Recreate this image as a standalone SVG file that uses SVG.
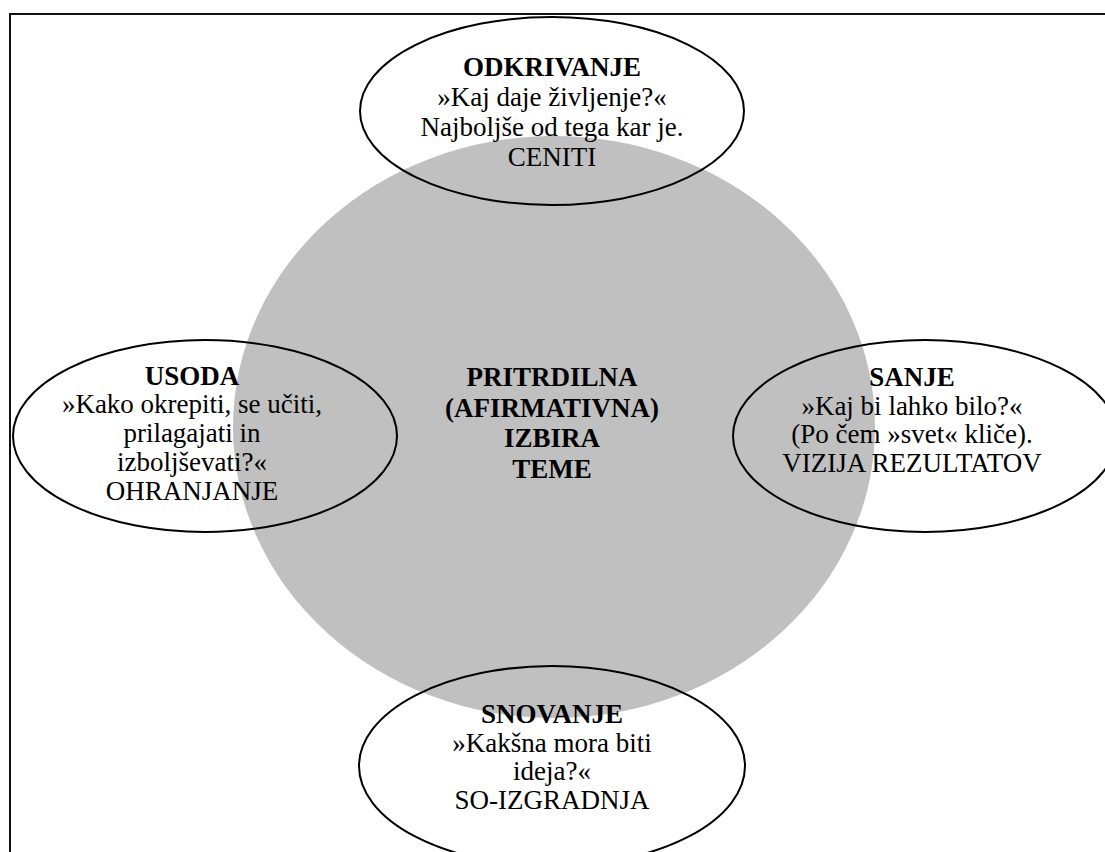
<svg xmlns="http://www.w3.org/2000/svg" width="1105" height="852" viewBox="0 0 1105 852">
  <style>
    .frame { fill: none; stroke: #111; stroke-width: 2; }
    .core { fill: #c0c0c0; stroke: none; }
    .phase { fill: none; stroke: #000; stroke-width: 2; }
    .lbl { font-family: 'Liberation Serif', 'Times New Roman', 'DejaVu Serif', serif; font-size: 27px; fill: #000; text-anchor: middle; }
    .title { font-weight: bold; }
  </style>
  <rect width="1105" height="852" fill="#fff"/>
  <rect class="frame" x="10" y="14" width="1200" height="900"/>

  <!-- central topic -->
  <g id="center">
    <ellipse class="core" cx="554" cy="427" rx="321" ry="291"/>
    <g class="lbl" font-family="Liberation Serif, Times New Roman, serif">
      <text class="title" x="552" y="386">PRITRDILNA</text>
      <text class="title" x="552" y="416.5">(AFIRMATIVNA)</text>
      <text class="title" x="552" y="447">IZBIRA</text>
      <text class="title" x="552" y="478">TEME</text>
    </g>
  </g>

  <g id="connectors"></g>

  <g id="odkrivanje">
    <ellipse class="phase" cx="552" cy="111" rx="192" ry="94"/>
    <g class="lbl" font-family="Liberation Serif, Times New Roman, serif">
      <text class="title" x="552" y="76">ODKRIVANJE</text>
      <text x="552" y="106">»Kaj daje življenje?«</text>
      <text x="552" y="136">Najboljše od tega kar je.</text>
      <text x="552" y="166">CENITI</text>
    </g>
  </g>

  <g id="usoda">
    <ellipse class="phase" cx="205" cy="436" rx="192" ry="96"/>
    <g class="lbl" font-family="Liberation Serif, Times New Roman, serif">
      <text class="title" x="192" y="385">USODA</text>
      <text x="192" y="413">»Kako okrepiti, se učiti,</text>
      <text x="192" y="442">prilagajati in</text>
      <text x="192" y="471">izboljševati?«</text>
      <text x="192" y="500">OHRANJANJE</text>
    </g>
  </g>

  <g id="sanje">
    <ellipse class="phase" cx="925" cy="436" rx="192" ry="96"/>
    <g class="lbl" font-family="Liberation Serif, Times New Roman, serif">
      <text class="title" x="912" y="386">SANJE</text>
      <text x="912" y="415">»Kaj bi lahko bilo?«</text>
      <text x="912" y="443">(Po čem »svet« kliče).</text>
      <text x="912" y="472">VIZIJA REZULTATOV</text>
    </g>
  </g>

  <g id="snovanje">
    <ellipse class="phase" cx="552" cy="766" rx="193" ry="100"/>
    <g class="lbl" font-family="Liberation Serif, Times New Roman, serif">
      <text class="title" x="552" y="723">SNOVANJE</text>
      <text x="552" y="752">»Kakšna mora biti</text>
      <text x="552" y="780">ideja?«</text>
      <text x="552" y="809">SO-IZGRADNJA</text>
    </g>
  </g>
</svg>
